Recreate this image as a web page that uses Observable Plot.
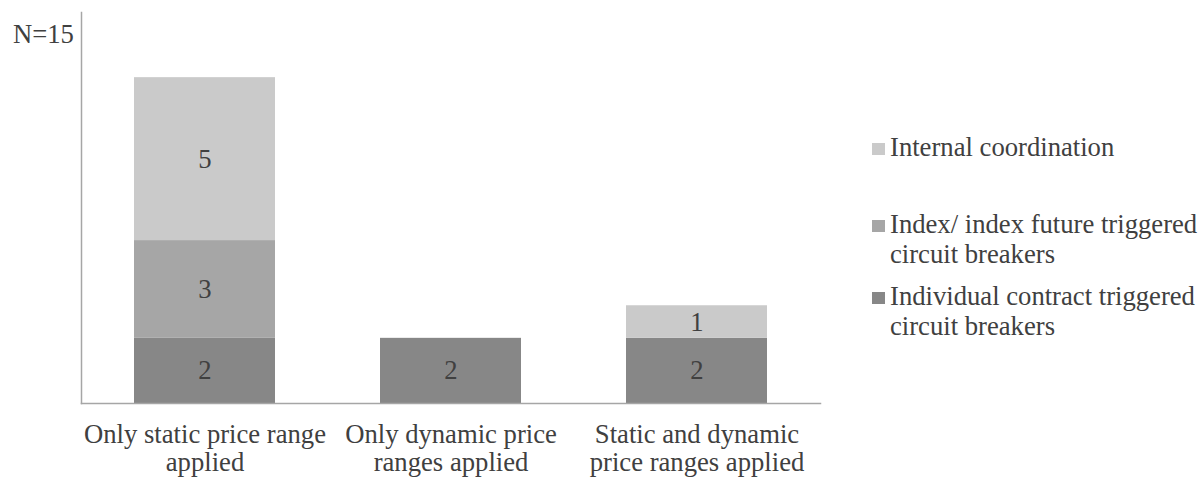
<!DOCTYPE html>
<html><head><meta charset="utf-8">
<script src="https://cdn.jsdelivr.net/npm/d3@7"></script>
<script src="https://cdn.jsdelivr.net/npm/@observablehq/plot@0.6"></script>
<style>
body{margin:0;background:#fff;font-family:"Liberation Serif","Times New Roman","DejaVu Serif",serif;color:#404040}
#wrap{position:relative;width:1201px;height:477px;overflow:hidden}
.lg{position:absolute;left:872px;font-size:26.67px;line-height:30px;color:#404040}
.lg .sw{position:absolute;left:0;top:11px;width:13px;height:12px}
.lg .tx{position:absolute;left:18px;top:0;white-space:nowrap}
#n{position:absolute;left:13px;top:21.5px;font-size:26.67px;line-height:25px;color:#404040}
</style></head>
<body><div id="wrap"><div id="n">N=15</div></div>
<script>
const categories = ["Only static price range\napplied","Only dynamic price\nranges applied","Static and dynamic\nprice ranges applied"];
const series = ["Individual contract triggered circuit breakers","Index/ index future triggered circuit breakers","Internal coordination"];
const individual = [2, 2, 2];
const indexFuture = [3, 0, 0];
const internal = [5, 0, 1];
const colors = ["#878787","#a6a6a6","#cacaca"];
const legendLines = [["Internal coordination"],["Index/ index future triggered","circuit breakers"],["Individual contract triggered","circuit breakers"]];

const vals = [individual, indexFuture, internal];
const data = [];
series.forEach((s, si) => categories.forEach((c, ci) => { if (vals[si][ci] > 0) data.push({cat: c, series: s, value: vals[si][ci]}); }));

const font = '"Liberation Serif","Times New Roman","DejaVu Serif",serif';
const chart = Plot.plot({
  width: 1201, height: 477,
  marginLeft: 81, marginRight: 381, marginTop: 12, marginBottom: 74,
  style: {fontFamily: font, fontSize: "26.67px", color: "#404040", background: "transparent"},
  x: {domain: categories, paddingInner: 0.427, paddingOuter: 0.2135, label: null},
  y: {domain: [0, 12], axis: null},
  color: {domain: series, range: colors},
  marks: [
    Plot.barY(data, Plot.stackY({x: "cat", y: "value", fill: "series", order: series})),
    Plot.text(data, Plot.stackY({x: "cat", y: "value", z: "series", text: "value", order: series, fill: "#404040", fontSize: 26.67})),
    Plot.axisX({tickSize: 0, tickPadding: 19.5, fontSize: 26.67, fill: "#404040", lineHeight: 1.05, label: null}),
    Plot.frame({anchor: "left", stroke: "#a6a6a6", strokeWidth: 1.5}),
    Plot.frame({anchor: "bottom", stroke: "#a6a6a6", strokeWidth: 1.5})
  ]
});
const wrap = document.getElementById("wrap");
chart.style.position = "absolute"; chart.style.left = "0"; chart.style.top = "0";
wrap.appendChild(chart);
const tops = [132, 209, 281];
const legendColors = [colors[2], colors[1], colors[0]];
legendLines.forEach((lines, i) => {
  const d = document.createElement("div");
  d.className = "lg"; d.style.top = tops[i] + "px";
  d.innerHTML = `<div class="sw" style="background:${legendColors[i]}"></div><div class="tx">${lines.join("<br>")}</div>`;
  wrap.appendChild(d);
});
</script></body></html>
